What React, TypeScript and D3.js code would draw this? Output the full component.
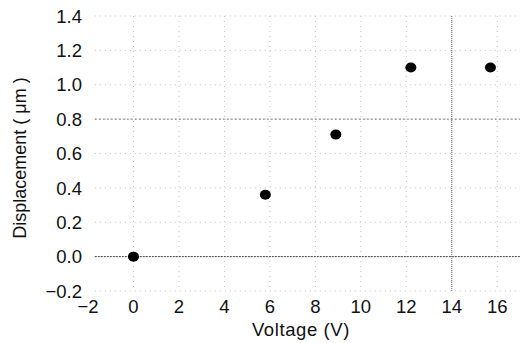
import React from 'react';
import * as d3 from 'd3';

const voltages = [0, 5.8, 8.9, 12.2, 15.7];
const displacements = [0, 0.36, 0.71, 1.1, 1.1];
const xTicks = [-2, 0, 2, 4, 6, 8, 10, 12, 14, 16];
const yTicks = [-0.2, 0, 0.2, 0.4, 0.6, 0.8, 1.0, 1.2, 1.4];

const W = 523;
const H = 343;

export default function App() {
  const x = d3.scaleLinear().domain([-2, 17]).range([88, 520]);
  const y = d3.scaleLinear().domain([-0.2, 1.4]).range([291, 16]);
  const font = '"Liberation Sans", Arial, sans-serif';

  // stronger dotted lines seen in the scan
  const strongH = [
    { v: 0, color: '#444', dash: '2,1' },
    { v: 0.8, color: '#777', dash: '2,2' },
  ];
  const strongV = [{ v: 14, color: '#666', dash: '1,1' }];

  return (
    <svg
      width={W}
      height={H}
      style={{ position: 'absolute', left: 0, top: 0, background: '#fff' }}
    >
      <g>
        {xTicks.slice(1).map((t) => (
          <line
            key={'gx' + t}
            x1={x(t)}
            x2={x(t)}
            y1={y(1.4)}
            y2={y(-0.2)}
            stroke="#c4c4c4"
            strokeDasharray="1,4"
          />
        ))}
        {yTicks.map((t) => (
          <line
            key={'gy' + t}
            x1={x(-1.7)}
            x2={x(17)}
            y1={y(t)}
            y2={y(t)}
            stroke="#c4c4c4"
            strokeDasharray="1,4"
          />
        ))}
        {strongH.map((s) => (
          <line
            key={'sh' + s.v}
            x1={x(-1.7)}
            x2={x(17)}
            y1={y(s.v)}
            y2={y(s.v)}
            stroke={s.color}
            strokeDasharray={s.dash}
          />
        ))}
        {strongV.map((s) => (
          <line
            key={'sv' + s.v}
            x1={x(s.v)}
            x2={x(s.v)}
            y1={y(1.4)}
            y2={y(-0.2)}
            stroke={s.color}
            strokeDasharray={s.dash}
          />
        ))}
      </g>
      <g fontFamily={font} fontSize={18.5} fill="#111">
        {yTicks.map((t) => (
          <text key={'yt' + t} x={82} y={y(t)} dy="0.36em" textAnchor="end">
            {d3.format('.1f')(t).replace('-', '\u2212')}
          </text>
        ))}
        {xTicks.map((t) => (
          <text key={'xt' + t} x={x(t)} y={313} textAnchor="middle">
            {String(t).replace('-', '\u2212')}
          </text>
        ))}
        <text x={301} y={336} textAnchor="middle" fontSize={18.5} letterSpacing={0.6}>
          Voltage (V)
        </text>
        <text
          transform={`translate(26,158) rotate(-90)`}
          textAnchor="middle"
          fontSize={18}
        >
          Displacement ( μm )
        </text>
      </g>
      <g>
        {voltages.map((v, i) => (
          <ellipse
            key={'p' + i}
            cx={x(v)}
            cy={y(displacements[i])}
            rx={5.5}
            ry={5}
            fill="#000"
          />
        ))}
      </g>
    </svg>
  );
}
